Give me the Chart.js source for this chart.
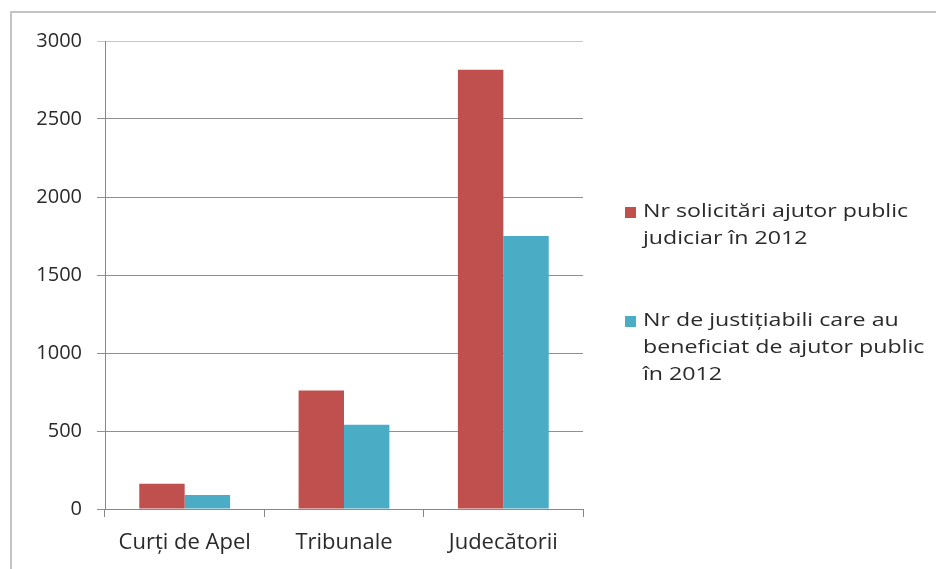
<!DOCTYPE html>
<html>
<head>
<meta charset="utf-8">
<script src="https://cdn.jsdelivr.net/npm/chart.js@4"></script>
<style>
	body { margin: 0; background: #fff; }
	#wrap { position: relative; width: 936px; height: 569px; overflow: hidden; }
	#frame { position: absolute; left: 10px; top: 11px; width: 960px; height: 600px; border-left: 2px solid #c4c4c4; border-top: 2px solid #c4c4c4; }
	canvas { position: absolute; left: 0; top: 0; }
</style>
</head>
<body>
<div id="wrap">
	<div id="frame"></div>
	<canvas id="chart" width="936" height="569"></canvas>
</div>
<script>
// chart data
const categories = ['Curți de Apel', 'Tribunale', 'Judecătorii'];
const solicitari = [162, 760, 2815];
const beneficiari = [90, 540, 1750];
const yTicks = [0, 500, 1000, 1500, 2000, 2500, 3000];

// legend text, wrapped like the original
const legendLines = [
	['Nr solicitări ajutor public', 'judiciar în 2012'],
	['Nr de justițiabili care au', 'beneficiat de ajutor public', 'în 2012']
];

const FONT = '"Open Sans", "Noto Sans", sans-serif';

// legend drawn on the right side (text a bit stretched, like the scan)
const sideLegend = {
	id: 'sideLegend',
	afterDraw(chart) {
		const ctx = chart.ctx;
		const starts = [212, 321];
		const sx = 1.22;
		ctx.save();
		ctx.font = '19px ' + FONT;
		ctx.textBaseline = 'middle';
		chart.data.datasets.forEach(function(ds, i) {
			ctx.fillStyle = ds.backgroundColor;
			ctx.fillRect(625, starts[i] - 5, 11, 11);
			ctx.fillStyle = '#2a2a2a';
			legendLines[i].forEach(function(line, j) {
				ctx.save();
				ctx.translate(643, starts[i] + j * 27);
				ctx.scale(sx, 1);
				ctx.fillText(line, 0, 0);
				ctx.restore();
			});
		});
		ctx.restore();
	}
};

let ctx = document.getElementById('chart').getContext('2d');
let chart = new Chart(ctx, {
	type: 'bar',
	data: {
		labels: categories,
		datasets: [{
			label: 'Nr solicitări ajutor public judiciar în 2012',
			backgroundColor: '#c0504d',
			data: solicitari
		}, {
			label: 'Nr de justițiabili care au beneficiat de ajutor public în 2012',
			backgroundColor: '#4bacc6',
			data: beneficiari
		}]
	},
	options: {
		responsive: false,
		animation: false,
		layout: { padding: { left: 0, right: 353, top: 41, bottom: 0 } },
		plugins: {
			legend: { display: false },
			tooltip: { enabled: false }
		},
		datasets: {
			bar: { categoryPercentage: 0.57, barPercentage: 1.0 }
		},
		scales: {
			x: {
				grid: {
					offset: true,
					drawOnChartArea: false,
					color: '#888',
					tickLength: 8
				},
				border: { color: '#888', width: 1 },
				ticks: { color: '#2a2a2a', font: { family: FONT, size: 22 }, padding: 13 },
				afterFit(scale) { scale.height = 60; }
			},
			y: {
				min: 0,
				max: 3000,
				afterBuildTicks(scale) { scale.ticks = yTicks.map(v => ({ value: v })); },
				grid: {
					color: c => c.tick && c.tick.value === 3000 ? '#c8c8c8' : '#8f8f8f',
					tickLength: 8
				},
				border: { color: '#888', width: 1 },
				ticks: {
					color: '#2a2a2a',
					font: { family: FONT, size: 20 },
					padding: 15,
					callback: v => String(v)
				},
				afterFit(scale) { scale.width = 105; }
			}
		}
	},
	plugins: [sideLegend]
});
</script>
</body>
</html>
